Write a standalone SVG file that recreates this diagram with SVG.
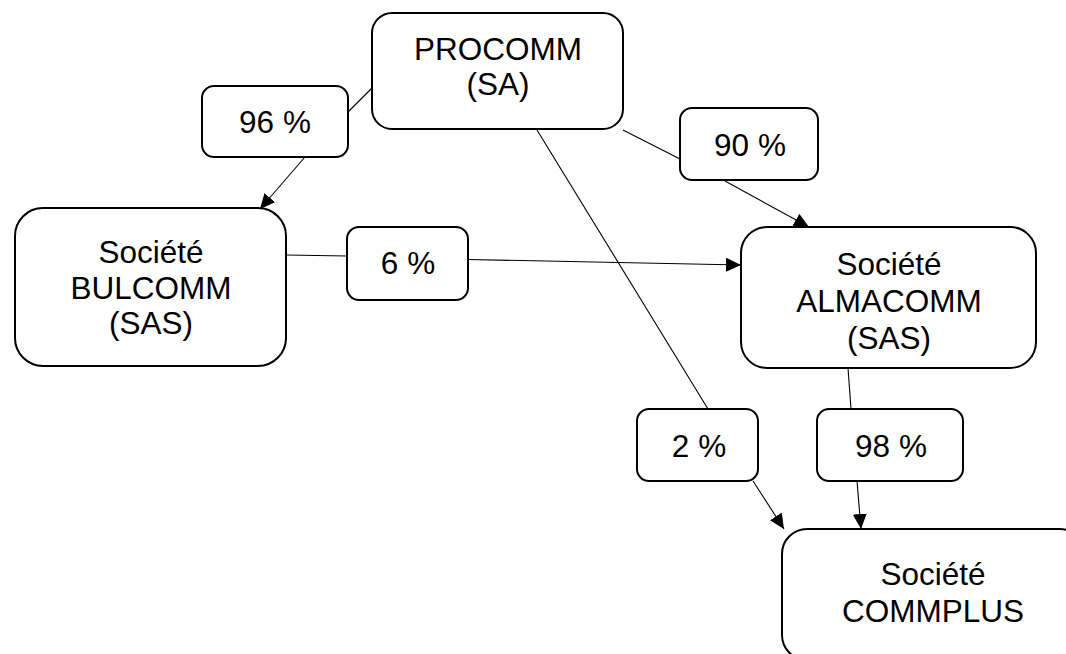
<svg xmlns="http://www.w3.org/2000/svg" width="1066" height="654" viewBox="0 0 1066 654">
<style>
.box{fill:#fff;stroke:#000;stroke-width:2}
.t{font-family:"Liberation Sans",Arial,sans-serif;font-size:31.5px;fill:#000;text-anchor:middle}
.c{fill:none;stroke:#000;stroke-width:1.1}
</style>
<defs>
<marker id="ah" markerUnits="userSpaceOnUse" markerWidth="16" markerHeight="14" refX="15" refY="7" orient="auto">
<path d="M0,0 L15,7 L0,14 z" fill="#000"/>
</marker>
</defs>
<rect width="1066" height="654" fill="#fff"/>
<g id="connectors">
<line class="c" x1="374" y1="86" x2="348" y2="112"/>
<line class="c" x1="305" y1="157" x2="260" y2="209" marker-end="url(#ah)"/>
<line class="c" x1="623" y1="130" x2="680" y2="159"/>
<line class="c" x1="725" y1="181" x2="809" y2="227" marker-end="url(#ah)"/>
<line class="c" x1="286" y1="255" x2="347" y2="256"/>
<line class="c" x1="468" y1="259.5" x2="741" y2="265" marker-end="url(#ah)"/>
<line class="c" x1="537" y1="130" x2="708" y2="409"/>
<line class="c" x1="753" y1="481" x2="784" y2="529" marker-end="url(#ah)"/>
<line class="c" x1="848" y1="368" x2="851" y2="409"/>
<line class="c" x1="857" y1="481" x2="861" y2="529" marker-end="url(#ah)"/>
</g>
<g id="procomm">
<rect class="box" x="372" y="13" width="251" height="116" rx="20"/>
<text class="t" x="498" y="60">PROCOMM</text>
<text class="t" x="498" y="95">(SA)</text>
</g>
<g id="label96">
<rect class="box" x="202" y="86" width="146" height="71" rx="12"/>
<text class="t" x="275" y="133">96 %</text>
</g>
<g id="label90">
<rect class="box" x="680" y="108" width="138" height="72" rx="12"/>
<text class="t" x="750" y="156">90 %</text>
</g>
<g id="bulcomm">
<rect class="box" x="15" y="208" width="271" height="158" rx="28"/>
<text class="t" x="151" y="263">Société</text>
<text class="t" x="151" y="299">BULCOMM</text>
<text class="t" x="151" y="334">(SAS)</text>
</g>
<g id="label6">
<rect class="box" x="347" y="227" width="121" height="73" rx="12"/>
<text class="t" x="408" y="274">6 %</text>
</g>
<g id="almacomm">
<rect class="box" x="741" y="227" width="295" height="141" rx="26"/>
<text class="t" x="889" y="275">Société</text>
<text class="t" x="889" y="312">ALMACOMM</text>
<text class="t" x="889" y="349">(SAS)</text>
</g>
<g id="label2">
<rect class="box" x="637" y="409" width="121" height="72" rx="12"/>
<text class="t" x="699" y="457">2 %</text>
</g>
<g id="label98">
<rect class="box" x="817" y="409" width="146" height="72" rx="12"/>
<text class="t" x="891" y="457">98 %</text>
</g>
<g id="commplus">
<rect class="box" x="782" y="529" width="303" height="131" rx="25"/>
<text class="t" x="933" y="585">Société</text>
<text class="t" x="933" y="622">COMMPLUS</text>
</g>
</svg>
